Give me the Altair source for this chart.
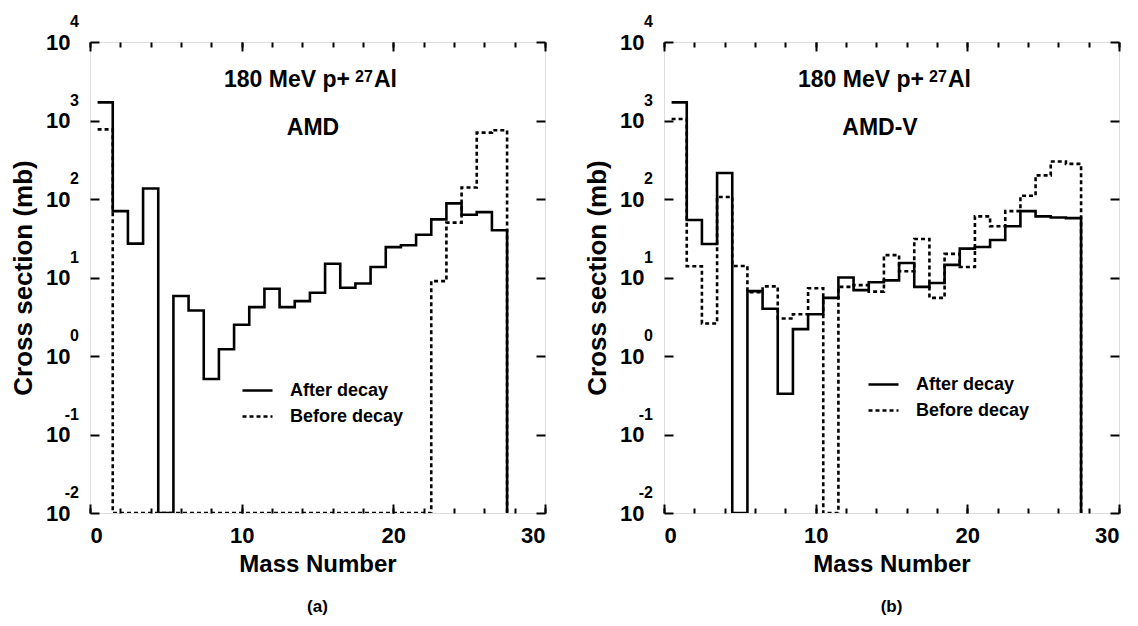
import altair as alt
import pandas as pd

# ---------------- data ----------------
mass = list(range(1, 28))

amd_after = [1700, 70, 27, 136, 0, 5.8, 3.8, 0.51, 1.22, 2.5, 4.2, 7.2, 4.2, 5.0,
             6.4, 15, 7.4, 8.4, 13.6, 24.4, 25.7, 35, 55, 88, 63, 68, 40]
amd_before = [770, 0, 0, 0, 0, 0, 0, 0, 0, 0, 0, 0, 0, 0,
              0, 0, 0, 0, 0, 0, 0, 0, 9, 50, 140, 700, 750]

amdv_after = [1700, 54, 26.7, 214, 0, 6.7, 4.0, 0.33, 2.2, 3.4, 5.5, 10, 6.9, 8.7,
              9.2, 15.3, 7.6, 8.5, 14.5, 23.3, 24.5, 30, 45, 70, 60, 58, 57]
amdv_before = [1045, 13.9, 2.6, 106, 14, 6.5, 7.7, 3.0, 3.4, 7.3, 0, 7.6, 8.0, 6.6,
               19.3, 12, 31, 5.5, 20, 13.6, 60, 45, 70, 110, 200, 300, 280]

series_names = ["After decay", "Before decay"]
y_ticks = [0.01, 0.1, 1, 10, 100, 1000, 10000]
y_exps = ["-2", "-1", "0", "1", "2", "3", "4"]
x_major = [0, 10, 20, 30]
x_minor = [0, 2, 4, 6, 8, 10, 12, 14, 16, 18, 20, 22, 24, 26, 28, 30]

# ---------------- styling ----------------
FONT = "Liberation Sans"
W, H = 455, 471
FLOOR = 0.01  # zero counts are drawn on the bottom of the log axis


def step_rows(values, label):
    rows = []
    for k, (a, v) in enumerate(zip(mass, values)):
        rows.append({"edge": a - 0.5, "cs": v if v > 0 else FLOOR, "series": label, "k": k})
    rows.append({"edge": mass[-1] + 0.5, "cs": FLOOR, "series": label, "k": len(mass)})
    return rows


def panel(after, before, model, tag, leg_x, leg_y, model_x):
    df = pd.DataFrame(step_rows(after, series_names[0]) + step_rows(before, series_names[1]))
    xs = alt.Scale(domain=[0, 30], nice=False, zero=False)
    ys = alt.Scale(type="log", domain=[0.01, 10000], nice=False)
    base = alt.Chart(df)

    lines = base.mark_line(interpolate="step-after", strokeWidth=2.6, color="black", clip=True).encode(
        x=alt.X("edge:Q", scale=xs, title="Mass Number",
                axis=alt.Axis(values=x_major, ticks=False, tickSize=0, domain=False, grid=False,
                              labelFont=FONT, labelFontSize=22, labelFontWeight="bold",
                              labelColor="black", labelPadding=12,
                              titleFont=FONT, titleFontSize=24, titleFontWeight="bold",
                              titleColor="black", titlePadding=6)),
        y=alt.Y("cs:Q", scale=ys, title="Cross section (mb)",
                axis=alt.Axis(values=y_ticks, labelExpr="'10'", ticks=False, tickSize=0,
                              domain=False, grid=False,
                              labelFont=FONT, labelFontSize=22, labelFontWeight="bold",
                              labelColor="black", labelPadding=20, labelBaseline="middle",
                              titleFont=FONT, titleFontSize=26, titleFontWeight="bold",
                              titleColor="black", titlePadding=9)),
        strokeDash=alt.StrokeDash(
            "series:N",
            scale=alt.Scale(domain=series_names, range=[[1, 0], [4, 3]]),
            legend=alt.Legend(title=None, orient="none", legendX=leg_x, legendY=leg_y,
                              symbolType="stroke", symbolSize=900, symbolStrokeWidth=2.4,
                              symbolStrokeColor="black", labelFont=FONT, labelFontSize=18,
                              labelFontWeight="bold", labelColor="black", labelOffset=16,
                              rowPadding=-11, padding=0)),
        order=alt.Order("k:Q"),
    )

    def tick_layer(xaxis, yaxis):
        return base.mark_line(opacity=0).encode(
            x=alt.X("edge:Q", scale=xs, axis=xaxis),
            y=alt.Y("cs:Q", scale=ys, axis=yaxis),
            detail="series:N",
            order=alt.Order("k:Q"),
        )

    def tax(orient, values, size):
        return alt.Axis(orient=orient, values=values, offset=-size, tickSize=size, tickWidth=2,
                        tickColor="black", labels=False, domain=False, grid=False, title=None)

    t1 = tick_layer(tax("bottom", x_major, 9), tax("left", y_ticks, 9))
    t2 = tick_layer(tax("bottom", x_minor, 5), tax("right", y_ticks, 9))
    t3 = tick_layer(tax("top", x_major, 9), None)
    t4 = tick_layer(tax("top", x_minor, 5), None)

    exps = alt.Chart(pd.DataFrame({"val": y_ticks, "exp": y_exps})).mark_text(
        align="right", baseline="alphabetic", font=FONT, fontSize=16, fontWeight="bold",
        color="black", dy=-15).encode(
        x=alt.value(-11),
        y=alt.Y("val:Q", scale=ys, axis=None),
        text="exp:N",
    )

    def label(text, x, y, size, align="left"):
        return alt.Chart(pd.DataFrame({"t": [text]})).mark_text(
            align=align, baseline="alphabetic", font=FONT, fontSize=size, fontWeight="bold",
            color="black").encode(x=alt.value(x), y=alt.value(y), text="t:N")

    notes = [
        label("180 MeV p+", 134, 45, 23),
        label("27", 265, 40, 16),
        label("Al", 284, 45, 23),
        label(model, model_x, 93, 23, "center"),
        label(tag, W / 2, H + 99, 17, "center"),
    ]

    return alt.layer(lines, t1, t2, t3, t4, exps, *notes).resolve_axis(
        x="independent", y="independent").properties(width=W, height=H)


left = panel(amd_after, amd_before, "AMD", "(a)", 151, 332, 223)
right = panel(amdv_after, amdv_before, "AMD-V", "(b)", 203, 326, 216)

chart = alt.hconcat(left, right, spacing=119, bounds="flush").resolve_legend(
    strokeDash="independent").resolve_scale(strokeDash="independent").properties(
    padding={"left": 10, "top": 13, "right": 5, "bottom": 5}
).configure_view(stroke="black", strokeWidth=2).configure(background="white")

chart.save("out.html", embed_options={"renderer": "svg", "actions": False})
